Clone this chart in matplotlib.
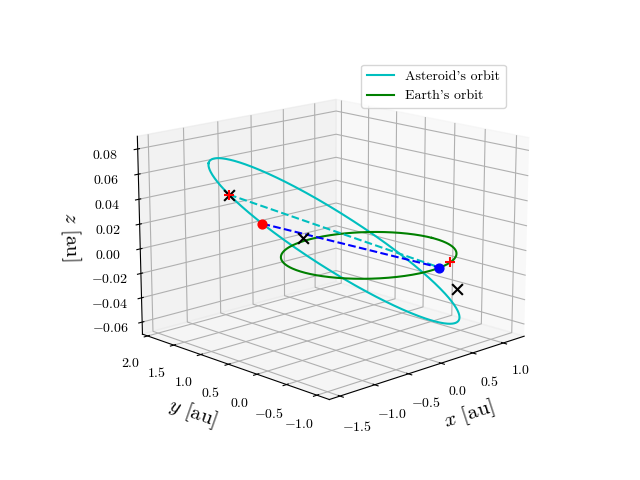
import numpy as np
import matplotlib
matplotlib.use("Agg")
import matplotlib.pyplot as plt

plt.rcParams.update({"font.family": "serif", "font.serif": ["cmr10"],
                     "mathtext.fontset": "cm", "axes.formatter.use_mathtext": True})

# asteroid orbit: centre and two semi-axis vectors
ast_center = [-0.17, 0.4, 0.008]
ast_u = [-0.9, 1.15, 0.06]
ast_v = [0.24, 0.2, 0.018]
earth_radius = 1.0

# marker positions
ast_marker_t = [-0.62, -1.0]          # orbit parameter of the X and the red dot
blue_dots = [[0.17, -0.98, 0.0]]
black_x_extra = [[-0.32, 0.78, 0.008], [0.42, -1.02, -0.02]]
red_plus_extra = [[0.42, -0.9, 0.0]]

t = np.linspace(0, 2*np.pi, 400)
c, u, v = map(np.array, (ast_center, ast_u, ast_v))
def orbit(tt):
    tt = np.asarray(tt)
    return c[:, None] + u[:, None]*np.cos(tt) + v[:, None]*np.sin(tt)
ast = orbit(t)
pts = orbit(ast_marker_t).T
x_pt, red_pt = pts[0], pts[1]
blue_pt = np.array(blue_dots[0])

fig = plt.figure(figsize=(6.4, 4.8), dpi=100)
ax = fig.add_subplot(projection="3d")
ax.plot(*ast, color="c", label="Asteroid's orbit")
ax.plot(earth_radius*np.cos(t), earth_radius*np.sin(t), 0*t, color="g", label="Earth's orbit")
ax.plot(*np.array([x_pt, blue_pt]).T, "c--")
ax.plot(*np.array([red_pt, blue_pt]).T, "b--")
ax.scatter(*red_pt, color="r", s=40, depthshade=False)
ax.scatter(*blue_pt, color="b", s=40, depthshade=False)
for p in [x_pt] + black_x_extra:
    ax.scatter(*p, color="k", marker="x", s=60, depthshade=False)
for p in [x_pt] + red_plus_extra:
    ax.scatter(*p, color="r", marker="+", s=60, depthshade=False)

ax.set_xlim(-1.65, 1.35)
ax.set_ylim(-1.2, 2.1)
ax.set_zlim(-0.07, 0.09)
ax.set_zticks([-0.06, -0.04, -0.02, 0.0, 0.02, 0.04, 0.06, 0.08])
ax.set_xticks([-1.5, -1.0, -0.5, 0.0, 0.5, 1.0])
ax.set_yticks([-1.0, -0.5, 0.0, 0.5, 1.0, 1.5, 2.0])
ax.set_xlabel("$x$ [au]", fontsize=15)
ax.set_ylabel("$y$ [au]", fontsize=15)
ax.set_zlabel("$z$ [au]", fontsize=15)
ax.view_init(elev=15, azim=-134)
ax.set_box_aspect(None, zoom=1.15)
ax.legend(loc="upper right")
fig.savefig("out.png")
